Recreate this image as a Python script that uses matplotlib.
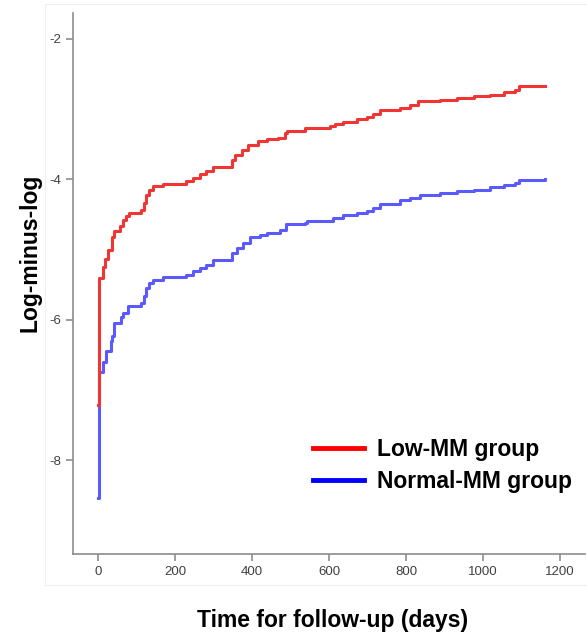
import matplotlib.pyplot as plt
from matplotlib.patches import Rectangle

plt.rcParams['font.family'] = ['Liberation Sans', 'DejaVu Sans']
plt.rcParams['axes.unicode_minus'] = False

# log-minus-log curves (days, value), step after each point
days_low = [1, 2, 14, 18, 27, 38, 42, 57, 66, 74, 81, 113, 119, 126, 133, 144,
            170, 230, 248, 265, 282, 299, 347, 356, 373, 390, 416, 438, 468,
            486, 490, 538, 603, 616, 637, 672, 698, 715, 732, 784, 810, 832,
            888, 932, 975, 1018, 1053, 1083, 1092, 1161]
lml_low = [-7.22, -5.41, -5.25, -5.14, -5.01, -4.82, -4.74, -4.67, -4.58, -4.53,
           -4.48, -4.44, -4.34, -4.22, -4.15, -4.10, -4.07, -4.03, -3.98, -3.93,
           -3.89, -3.82, -3.72, -3.65, -3.58, -3.51, -3.46, -3.43, -3.41, -3.34,
           -3.31, -3.27, -3.24, -3.21, -3.18, -3.15, -3.12, -3.07, -3.01, -2.98,
           -2.95, -2.89, -2.87, -2.84, -2.82, -2.80, -2.76, -2.73, -2.68, -2.67]

days_norm = [1, 2, 14, 20, 33, 36, 42, 59, 66, 79, 113, 119, 126, 133, 144, 170,
             230, 248, 265, 282, 299, 347, 360, 377, 395, 421, 438, 473, 488,
             538, 543, 611, 637, 672, 698, 715, 732, 784, 810, 836, 888, 932,
             975, 1018, 1053, 1083, 1092, 1161]
lml_norm = [-8.54, -6.74, -6.60, -6.45, -6.30, -6.24, -6.05, -5.96, -5.90, -5.81,
            -5.76, -5.67, -5.55, -5.48, -5.43, -5.40, -5.36, -5.31, -5.27, -5.22,
            -5.15, -5.05, -4.98, -4.91, -4.82, -4.79, -4.76, -4.72, -4.64, -4.62,
            -4.59, -4.55, -4.51, -4.48, -4.46, -4.41, -4.35, -4.30, -4.27, -4.22,
            -4.20, -4.17, -4.15, -4.11, -4.08, -4.06, -4.01, -4.00]

xticks = [0, 200, 400, 600, 800, 1000, 1200]
yticks = [-8, -6, -4, -2]

fig = plt.figure(figsize=(5.87, 6.37), dpi=100)
fig.patches.append(Rectangle((0.077, 0.082), 0.93, 0.912, transform=fig.transFigure,
                             fill=False, edgecolor='#efefef', lw=0.8))
ax = fig.add_axes([0.124, 0.130, 0.873, 0.850])

l2, = ax.plot(days_norm, lml_norm, drawstyle='steps-post', color='#5a5aff', lw=2.2)
l1, = ax.plot(days_low, lml_low, drawstyle='steps-post', color='#f03535', lw=2.2)

ax.set_xlim(-65, 1265)
ax.set_ylim(-9.34, -1.63)
ax.set_xticks(xticks)
ax.set_yticks(yticks)
for s in ['top', 'right']:
    ax.spines[s].set_visible(False)
for s in ['left', 'bottom']:
    ax.spines[s].set_color('#8c8c8c')
    ax.spines[s].set_linewidth(1.2)
ax.tick_params(colors='#8c8c8c', length=5, width=1.2, labelsize=9.5,
               labelcolor='#404040')

ax.set_ylabel('Log-minus-log', fontsize=16.5, fontweight='bold')
ax.yaxis.set_label_coords(-0.061, 0.556)
ax.set_xlabel('Time for follow-up (days)', fontsize=16.5, fontweight='bold')
ax.xaxis.set_label_coords(0.506, -0.102)

h1, = ax.plot([], [], color='#ff0000', lw=3.5)
h2, = ax.plot([], [], color='#0000ff', lw=3.5)
leg = ax.legend([h1, h2], ['Low-MM group', 'Normal-MM group'], loc='center left',
                bbox_to_anchor=(0.469, 0.164), frameon=False, borderpad=0,
                borderaxespad=0, handlelength=2.2, handletextpad=0.6,
                labelspacing=0.42, prop={'size': 16.5, 'weight': 'bold'})

fig.savefig('out.png', dpi=100)
